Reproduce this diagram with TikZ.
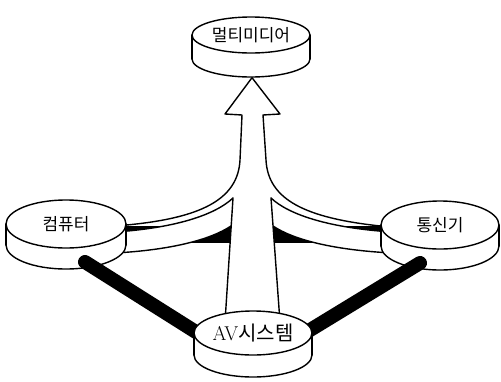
\documentclass[tikz,border=0pt]{standalone}
\usepackage{fontspec}
\newfontfamily\kr{Noto Sans CJK KR}
\usetikzlibrary{shapes.geometric,calc}

\pgfdeclarelayer{back}
\pgfdeclarelayer{sides}
\pgfdeclarelayer{links}
\pgfsetlayers{back,sides,links,main}

\tikzset{
  outline/.style={line width=1.4pt, line join=round, line cap=round},
  face/.style={ellipse, draw, fill=white, line width=1.4pt, inner sep=0pt,
    font=\kr\fontsize{17pt}{17pt}\selectfont},
  link/.style={line width=14pt, line cap=round},
  crossbar/.style={line width=17pt},
}

% side wall of a flat disc: centre x, centre y, x radius, y radius, height
\newcommand\discwall[5]{%
  \filldraw[fill=white, outline] (#1,#2+#5) ellipse [x radius=#3pt, y radius=#4pt];
  \fill[white] (#1-#3,#2) rectangle (#1+#3,#2+#5);
  \draw[outline] (#1-#3,#2) -- (#1-#3,#2+#5) (#1+#3,#2) -- (#1+#3,#2+#5);
}

\begin{document}
\begin{tikzpicture}[x=1pt,y=-1pt]
\useasboundingbox (0,0) rectangle (501,381);

% discs on the left and right
\begin{pgfonlayer}{sides}
  \discwall{66}{224}{60}{24}{21}
  \node[face, minimum width=120pt, minimum height=48pt] (pc) at (66,224) {컴퓨터};
  \discwall{440}{225}{59}{24}{21}
  \node[face, minimum width=118pt, minimum height=48pt] (tel) at (440,225) {통신기};
\end{pgfonlayer}

% bottom and top discs
\discwall{253}{333}{59}{22}{22}
\node[face, minimum width=118pt, minimum height=44pt,
      font=\fontsize{20pt}{20pt}\selectfont] (av) at (253,333) {AV{\kr 시스템}};
\discwall{251}{35}{59}{18}{24}
\node[face, minimum width=118pt, minimum height=36pt] (mm) at (251,35) {멀티미디어};

% thick links from the side discs down to the bottom disc
\begin{pgfonlayer}{links}
  \draw[link] ($(pc)+(19,38)$) -- ($(av)+(-38,11)$);
  \draw[link] ($(tel)+(-20,38)$) -- ($(av)+(39,8)$);
\end{pgfonlayer}

\begin{pgfonlayer}{back}
  % outline of the merged arrow with its head at the top disc
  \draw[outline] ($(pc.east)+(0,1)$) .. controls (200,218) and (238,200) .. (240,160)
    -- (242,115) -- (225,114) -- ($(mm.south)+(1,24)$) -- (280,114) -- (263,115)
    -- (266,160) .. controls (268,200) and (306,218) .. ($(tel.west)+(0,1)$);
  % crossbar between the side discs
  \draw[crossbar] ($(pc)+(45,10)$) -- ($(tel)+(-45,9)$);
  % left branch
  \fill[white] (115,232) .. controls (175,228) and (215,215) .. (233,198)
    -- (231,226) .. controls (210,240) and (170,250) .. (115,253) -- cycle;
  \draw[outline] (115,232) .. controls (175,228) and (215,215) .. (233,198);
  \draw[outline] (231,226) .. controls (210,240) and (170,250) .. (115,253);
  % right branch
  \fill[white] (392,232) .. controls (330,228) and (289,215) .. (271,198)
    -- (273,226) .. controls (294,240) and (334,250) .. (392,253) -- cycle;
  \draw[outline] (392,232) .. controls (330,228) and (289,215) .. (271,198);
  \draw[outline] (273,226) .. controls (294,240) and (334,250) .. (392,253);
  % shaft rising from the bottom disc
  \fill[white] (225,322) -- (233,198) -- (271,198) -- (280,322) -- cycle;
  \draw[outline] (225,322) -- (233,198) (271,198) -- (280,322);
\end{pgfonlayer}
\end{tikzpicture}
\end{document}
